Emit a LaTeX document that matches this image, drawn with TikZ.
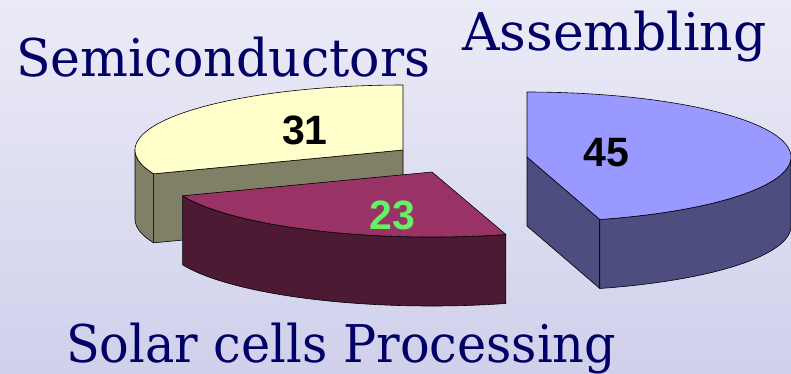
\documentclass[tikz,border=0pt]{standalone}
\usepackage{fontspec}
\newfontfamily\titlefont{DejaVu Serif}
\newfontfamily\numfont{Liberation Sans}
\definecolor{bgtop}{RGB}{235,235,247}
\definecolor{bgbot}{RGB}{208,208,236}
\definecolor{titleblue}{RGB}{0,0,102}
\definecolor{semitop}{HTML}{FFFFCC}
\definecolor{semiside}{HTML}{808066}
\definecolor{solartop}{HTML}{993366}
\definecolor{solarside}{HTML}{4D1A33}
\definecolor{asmtop}{HTML}{9999FF}
\definecolor{asmside}{HTML}{4D4D80}
\definecolor{valgreen}{RGB}{102,240,102}
\begin{document}
\begin{tikzpicture}[x=1pt,y=-1pt,line join=round,
  facet/.style={draw=black,line width=0.6pt},
  title/.style={anchor=base west,inner sep=0pt,text=titleblue,font=\titlefont\fontsize{52}{60}\selectfont},
  value/.style={inner sep=0pt,font=\numfont\bfseries\fontsize{41}{48}\selectfont}]
% background
\shade[top color=bgtop,bottom color=bgbot] (0,0) rectangle (791,373);
\useasboundingbox (0,0) rectangle (791,373);

% --- Semiconductors slice (31 %), centre (403,150) ---
\filldraw[facet,fill=semiside]
  plot[domain=180:201.5,samples=30,variable=\t] ({403+268*cos(\t)},{150-65*sin(\t)})
  -- plot[domain=201.5:180,samples=30,variable=\t] ({403+268*cos(\t)},{219-65*sin(\t)}) -- cycle;
\filldraw[facet,fill=semiside]
  (403,150) -- ({403+268*cos(201.5)},{150-65*sin(201.5)})
  -- ({403+268*cos(201.5)},{219-65*sin(201.5)}) -- (403,219) -- cycle;
\filldraw[facet,fill=semitop]
  (403,150) -- plot[domain=90:201.5,samples=80,variable=\t] ({403+268*cos(\t)},{150-65*sin(\t)}) -- cycle;

% --- Solar cells slice (23 %), centre (432,172) ---
\filldraw[facet,fill=solarside]
  plot[domain=201.5:286,samples=60,variable=\t] ({432+268*cos(\t)},{172-65*sin(\t)})
  -- plot[domain=286:201.5,samples=60,variable=\t] ({432+268*cos(\t)},{241-65*sin(\t)}) -- cycle;
\filldraw[facet,fill=solartop]
  (432,172) -- plot[domain=201.5:286,samples=60,variable=\t] ({432+268*cos(\t)},{172-65*sin(\t)}) -- cycle;

% --- Assembling slice (45 %), centre (527,157) ---
\filldraw[facet,fill=asmside]
  (527,157) -- ({527+264*cos(-74)},{157-65*sin(-74)})
  -- ({527+264*cos(-74)},{226-65*sin(-74)}) -- (527,226) -- cycle;
\filldraw[facet,fill=asmside]
  plot[domain=-74:0,samples=60,variable=\t] ({527+264*cos(\t)},{157-65*sin(\t)})
  -- plot[domain=0:-74,samples=60,variable=\t] ({527+264*cos(\t)},{226-65*sin(\t)}) -- cycle;
\filldraw[facet,fill=asmtop]
  (527,157) -- plot[domain=-74:90,samples=100,variable=\t] ({527+264*cos(\t)},{157-65*sin(\t)}) -- cycle;

% values
\node[value] (v31) at (305,130) {31};
\node[value,text=valgreen] (v23) at (392,215) {23};
\node[value] (v45) at (606,153) {45};

% category names
\node[title] (semi) at (16,76) {\scalebox{0.972}[1]{Semiconductors}};
\node[title] (asm) at (462,50) {Assembling};
\node[title] (solar) at (66,362) {\scalebox{0.948}[1]{Solar cells Processing}};
\end{tikzpicture}
\end{document}
